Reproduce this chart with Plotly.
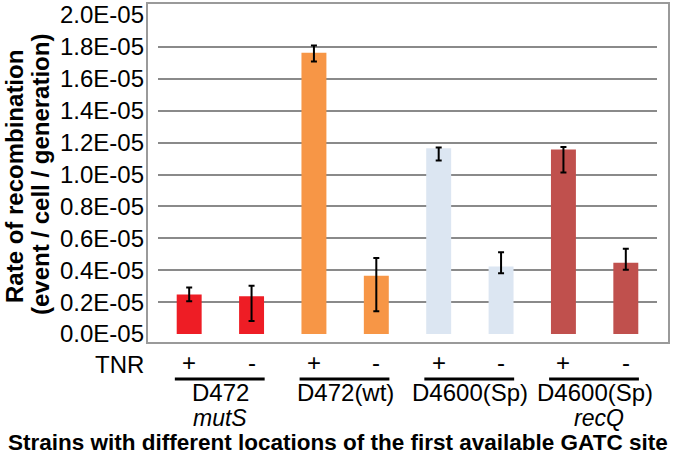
import plotly.graph_objects as go

# ---- data ----
strains = ["D472", "D472", "D472(wt)", "D472(wt)", "D4600(Sp)", "D4600(Sp)", "D4600(Sp)", "D4600(Sp)"]
tnr = ["+", "-", "+", "-", "+", "-", "+", "-"]
rates = [2.47e-6, 2.37e-6, 17.63e-6, 3.65e-6, 11.64e-6, 4.23e-6, 11.56e-6, 4.47e-6]
err_plus = [0.44e-6, 0.65e-6, 0.46e-6, 1.11e-6, 0.05e-6, 0.90e-6, 0.16e-6, 0.88e-6]
err_minus = [0.42e-6, 1.56e-6, 0.55e-6, 2.23e-6, 0.76e-6, 0.42e-6, 1.43e-6, 0.44e-6]
bar_colors = ["#EE1D25", "#EE1D25", "#F79646", "#F79646", "#DCE6F2", "#DCE6F2", "#C0504D", "#C0504D"]
group_names = ["D472", "D472(wt)", "D4600(Sp)", "D4600(Sp)"]
group_sub = ["mutS", "", "", "recQ"]
y_tickvals = [0, 0.2e-5, 0.4e-5, 0.6e-5, 0.8e-5, 1.0e-5, 1.2e-5, 1.4e-5, 1.6e-5, 1.8e-5, 2.0e-5]
y_ticktext = ["0.0E-05", "0.2E-05", "0.4E-05", "0.6E-05", "0.8E-05", "1.0E-05",
              "1.2E-05", "1.4E-05", "1.6E-05", "1.8E-05", "2.0E-05"]
y_title_1 = "Rate of recombination"
y_title_2 = "(event / cell / generation)"
x_title = "Strains with different locations of the first available GATC site"

W, H = 677, 464
L, R, T, B = 158, 20, 15, 130
PW, PH = W - L - R, H - T - B
FONT = "Liberation Sans, Arial, sans-serif"
FS = 24


def px_x(x):
    return (x - L) / PW


def px_y(y):
    return (H - B - y) / PH


xs = list(range(len(rates)))

fig = go.Figure()
fig.add_trace(go.Bar(
    x=xs, y=rates, width=0.4,
    marker=dict(color=bar_colors, line=dict(width=0)),
    error_y=dict(type="data", symmetric=False, array=err_plus, arrayminus=err_minus,
                 color="black", thickness=2, width=3),
    showlegend=False, hoverinfo="skip",
))

annotations = []
shapes = []
# TNR row
annotations.append(dict(text="TNR", x=px_x(146), y=px_y(364), xref="paper", yref="paper",
                        xanchor="right", yanchor="middle", showarrow=False,
                        font=dict(size=FS, color="black", family=FONT)))
for i, s in enumerate(tnr):
    annotations.append(dict(text=s, x=i, y=px_y(362), xref="x", yref="paper",
                            xanchor="center", yanchor="middle", showarrow=False,
                            font=dict(size=FS, color="black", family=FONT)))
for g, name in enumerate(group_names):
    c = 2 * g + 0.5
    shapes.append(dict(type="line", xref="x", yref="paper", x0=c - 0.73, x1=c + 0.71,
                       y0=px_y(379), y1=px_y(379), line=dict(color="black", width=3)))
    annotations.append(dict(text=name, x=c, y=px_y(392), xref="x", yref="paper",
                            xanchor="center", yanchor="middle", showarrow=False,
                            font=dict(size=FS, color="black", family=FONT)))
    if group_sub[g]:
        annotations.append(dict(text="<i>" + group_sub[g] + "</i>", x=c, y=px_y(418),
                                xref="x", yref="paper", xanchor="center", yanchor="middle",
                                xshift=4 if g == 3 else 0, showarrow=False,
                                font=dict(size=23, color="black", family=FONT)))

annotations.append(dict(text="<b>" + x_title + "</b>", x=px_x(338), y=px_y(443),
                        xref="paper", yref="paper", xanchor="center", yanchor="middle",
                        showarrow=False, font=dict(size=22.5, color="black", family=FONT)))
annotations.append(dict(text="<b>" + y_title_1 + "</b>", x=px_x(14), y=px_y(177),
                        xref="paper", yref="paper", xanchor="center", yanchor="middle",
                        textangle=-90, showarrow=False,
                        font=dict(size=FS, color="black", family=FONT)))
annotations.append(dict(text="<b>" + y_title_2 + "</b>", x=px_x(41), y=px_y(175),
                        xref="paper", yref="paper", xanchor="center", yanchor="middle",
                        textangle=-90, showarrow=False,
                        font=dict(size=FS, color="black", family=FONT)))

# plot frame
shapes.append(dict(type="rect", xref="paper", yref="paper",
                   x0=px_x(147), x1=px_x(669), y0=px_y(343), y1=px_y(3),
                   line=dict(color="#9a9a9a", width=2), layer="above"))

fig.update_layout(
    width=W, height=H,
    margin=dict(l=L, r=R, t=T, b=B, autoexpand=False),
    paper_bgcolor="white", plot_bgcolor="white",
    font=dict(family=FONT, size=FS, color="black"),
    xaxis=dict(range=[-0.5, 7.5], showticklabels=False, showgrid=False, zeroline=False,
               showline=False, ticks="", automargin=False),
    yaxis=dict(range=[0, 2.0e-5], tickvals=y_tickvals, ticktext=y_ticktext,
               showgrid=True, gridcolor="#8a8a8a", gridwidth=2, zeroline=False,
               showline=False, ticks="", ticklabelstandoff=13, automargin=False,
               tickfont=dict(size=FS, color="black", family=FONT)),
    annotations=annotations, shapes=shapes,
    bargap=0.6,
)

fig.write_html("out.html", config={"displayModeBar": False},
               post_script="document.body.style.margin='0';")
